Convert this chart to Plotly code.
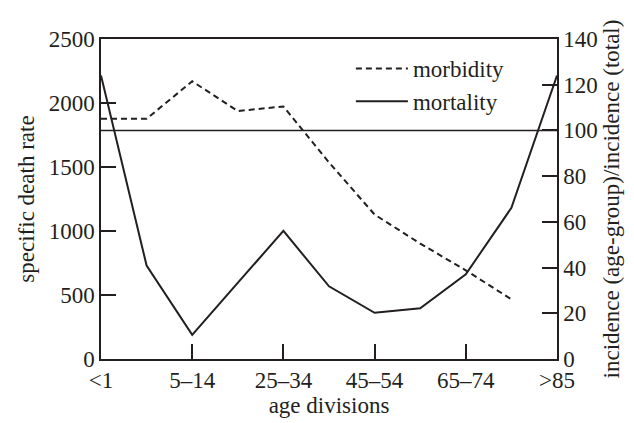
import plotly.graph_objects as go

categories = ["<1", "1–4", "5–14", "15–24", "25–34", "35–44", "45–54", "55–64", "65–74", "75–84", ">85"]
tick_labels = ["<1", "5–14", "25–34", "45–54", "65–74", ">85"]
mortality = [2215, 730, 189, 595, 1001, 568, 361, 397, 662, 1181, 2215]          # specific death rate (left axis)
morbidity = [105.1, 105.1, 121.5, 108.5, 110.5, 86.0, 63.2, 50.5, 38.8, 26.1]    # incidence ratio (right axis)
reference_level = 100
left_ticks = [0, 500, 1000, 1500, 2000, 2500]
right_ticks = [0, 20, 40, 60, 80, 100, 120, 140]

FONT = "Liberation Serif"
INK = "#231f20"
FS = 23
F = dict(family=FONT, size=FS, color=INK)

fig = go.Figure()
fig.add_trace(go.Scatter(
    x=categories[:len(morbidity)], y=morbidity, name="morbidity", yaxis="y2",
    mode="lines", line=dict(color=INK, width=2, dash="6px,4px")))
fig.add_trace(go.Scatter(
    x=categories, y=mortality, name="mortality", yaxis="y",
    mode="lines", line=dict(color=INK, width=2)))

fig.add_shape(type="line", xref="paper", x0=0, x1=1, yref="y2",
              y0=reference_level, y1=reference_level,
              line=dict(color=INK, width=1.5))

fig.update_layout(
    width=634, height=423,
    margin=dict(l=101, r=77, t=39, b=60),
    paper_bgcolor="white", plot_bgcolor="white",
    font=F,
    showlegend=True,
    legend=dict(x=0.548, y=0.975, xanchor="left", yanchor="top",
                bgcolor="rgba(0,0,0,0)", borderwidth=0,
                font=F, itemwidth=52, tracegroupgap=0),
    xaxis=dict(
        type="category", categoryorder="array", categoryarray=categories,
        range=[0, len(categories) - 1],
        tickmode="array", tickvals=tick_labels, ticktext=tick_labels,
        ticks="inside", ticklen=15, tickwidth=1.5, tickcolor=INK,
        showline=True, linecolor=INK, linewidth=1.5, mirror=True,
        showgrid=False, zeroline=False,
        title=dict(text="age divisions", standoff=2, font=F),
        tickfont=F,
    ),
    yaxis=dict(
        range=[0, 2500], tickmode="array", tickvals=left_ticks,
        ticks="inside", ticklen=15, tickwidth=1.5, tickcolor=INK,
        showline=True, linecolor=INK, linewidth=1.5,
        showgrid=False, zeroline=False,
        title=dict(text="specific death rate", standoff=8, font=F),
        tickfont=F,
    ),
    yaxis2=dict(
        range=[0, 140], tickmode="array", tickvals=right_ticks,
        overlaying="y", side="right",
        ticks="inside", ticklen=15, tickwidth=1.5, tickcolor=INK,
        showline=True, linecolor=INK, linewidth=1.5,
        showgrid=False, zeroline=False,
        title=dict(text="incidence (age-group)/incidence (total)", standoff=6, font=F),
        tickfont=F,
    ),
)

fig.write_html("out.html", config={"displayModeBar": False},
               post_script="document.body.style.margin='0px';")
